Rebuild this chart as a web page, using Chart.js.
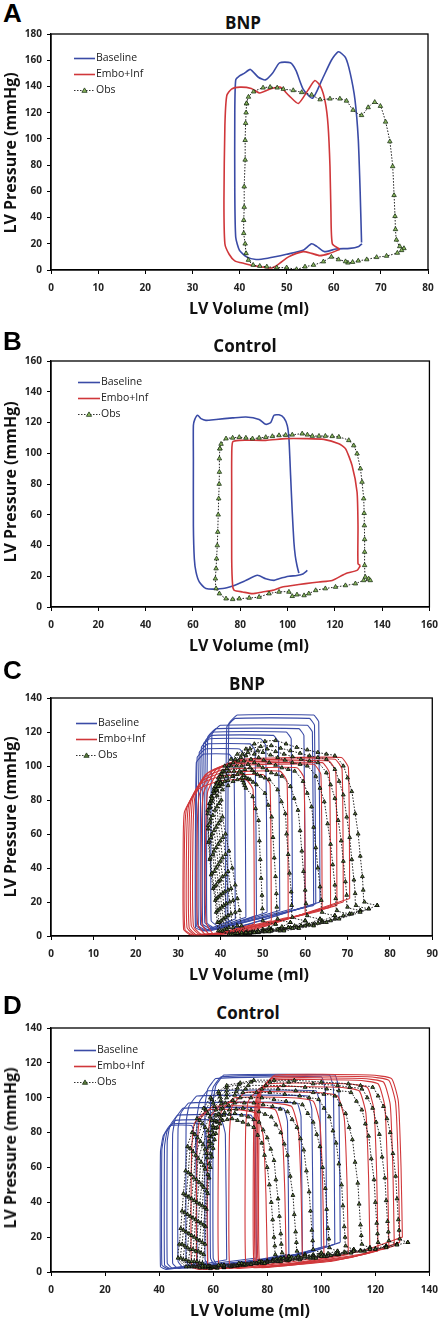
<!DOCTYPE html>
<html lang="en">
<head>
  <meta charset="UTF-8" />
  <title>LV pressure-volume loops</title>
  <script src="https://cdn.jsdelivr.net/npm/chart.js@4"></script>
  <style>
    body { margin: 0; background: #fff; font-family: 'Open Sans', sans-serif; }
    .fig { position: relative; width: 446px; height: 1320px; overflow: hidden; }
    .fig canvas { position: absolute; left: 0; }
    .lbl { position: absolute; color: #111; font-weight: bold; white-space: nowrap; transform: translate(-50%, -50%); line-height: 1; }
    .ttl { font-size: 17px; }
    .axt { font-size: 16px; }
    .yt { transform: translate(-50%, -50%) rotate(-90deg); font-size: 16px; }
    .letter { position: absolute; left: 3px; font-family: 'Liberation Sans', Arial, sans-serif; font-weight: bold; font-size: 26px; line-height: 1; color: #000; }
  </style>
</head>
<body>
<div class="fig">
  <div class="letter" style="top:0px">A</div>
  <div class="lbl ttl" style="left:243px; top:22px">BNP</div>
  <canvas id="chartA" width="446" height="300" style="top:0px"></canvas>
  <div class="lbl axt" style="left:249px; top:308px">LV Volume (ml)</div>
  <div class="lbl yt" style="left:10px; top:153px">LV Pressure (mmHg)</div>

  <div class="letter" style="top:328px">B</div>
  <div class="lbl ttl" style="left:245px; top:345px">Control</div>
  <canvas id="chartB" width="446" height="310" style="top:325px"></canvas>
  <div class="lbl axt" style="left:249px; top:645px">LV Volume (ml)</div>
  <div class="lbl yt" style="left:10px; top:482px">LV Pressure (mmHg)</div>

  <div class="letter" style="top:657px">C</div>
  <div class="lbl ttl" style="left:247px; top:683px">BNP</div>
  <canvas id="chartC" width="446" height="310" style="top:650px"></canvas>
  <div class="lbl axt" style="left:249px; top:974px">LV Volume (ml)</div>
  <div class="lbl yt" style="left:10px; top:817px">LV Pressure (mmHg)</div>

  <div class="letter" style="top:992px">D</div>
  <div class="lbl ttl" style="left:248px; top:1012px">Control</div>
  <canvas id="chartD" width="446" height="318" style="top:980px"></canvas>
  <div class="lbl axt" style="left:250px; top:1310px">LV Volume (ml)</div>
  <div class="lbl yt" style="left:10px; top:1148px">LV Pressure (mmHg)</div>
</div>
<script>
  // series names (legend)
  const seriesNames = ["Baseline", "Embo+Inf", "Obs"];

  // tick labels
  const aXTicks = [0, 10, 20, 30, 40, 50, 60, 70, 80];
  const aYTicks = [0, 20, 40, 60, 80, 100, 120, 140, 160, 180];
  const bXTicks = [0, 20, 40, 60, 80, 100, 120, 140, 160];
  const bYTicks = [0, 20, 40, 60, 80, 100, 120, 140, 160];
  const cXTicks = [0, 10, 20, 30, 40, 50, 60, 70, 80, 90];
  const cYTicks = [0, 20, 40, 60, 80, 100, 120, 140];
  const dXTicks = [0, 20, 40, 60, 80, 100, 120, 140];
  const dYTicks = [0, 20, 40, 60, 80, 100, 120, 140];

  // [volume ml, pressure mmHg]

  // A - BNP, single loop
  const aBaseline = [[65.9,21],[65.6,60],[65.2,100],[64.5,130],[63.5,150],[62.5,162],[61,166.5],[59.5,160],[57.5,145],[55.5,131],[53.5,138],[52,152],[50.8,158],[48.5,158],[47,150],[45.5,145],[44,147],[42.3,153],[41,150],[40,148],[39.2,145],[39,120],[39,60],[39.2,25],[40,15],[41.5,10],[43.5,8],[46,9],[50,12],[53.5,15],[55.3,20],[56.4,18],[58,14],[60.5,16],[63.4,16.5],[65.3,18],[66,20]];
  const aEmbo = [[61.3,15.8],[59.7,20],[59.4,45],[59.2,79],[58.8,110],[58.2,128],[57.2,140],[56,144.5],[54.5,137],[52.5,127],[50.5,133],[48.6,139.5],[46.5,138],[44.3,135],[42.5,138.5],[40.1,139.5],[38.3,138],[37.3,133],[36.9,110],[36.7,53],[36.9,20],[37.8,12],[39,7],[41,5],[43.5,3],[46.8,1.5],[48.5,5],[50.4,10],[53.5,14],[55.3,12.7],[57,11],[59,12.5],[61.3,15.8]];
  const aObs = [[41.5,127],[41.9,132],[43,136],[45,139],[46.5,139.5],[48,139],[49.3,138],[51.4,137],[53.2,135.5],[55.3,133.6],[57.1,130],[59.2,130.6],[61.3,130.6],[62.7,129],[64.1,122],[65.9,118],[67.3,124],[68.7,128],[69.9,125],[71,113],[71.9,98],[72.5,79],[72.8,57],[73,41],[73.1,31],[73.3,23],[74,18],[74.9,16.5],[74.4,15],[73.5,13],[71.2,10.7],[69.1,9.7],[67,8],[65.2,7],[64,6],[63,5.5],[62.5,6.5],[61,8],[59.5,10],[57.8,6.4],[55.7,3.8],[53.9,2.5],[52.1,0.5],[50,1.8],[47.9,1.8],[45.8,2.5],[44.3,3],[42.9,3.8],[41.9,7.6],[41.4,12.7],[41.2,20],[40.9,28],[40.9,38],[41,48],[41,63.6],[41.2,84],[41.2,99],[41.3,112],[41.4,120],[41.5,127]];

  // B - Control, single loop
  const bBaseline = [[104.8,22],[104,27],[103.3,33],[102.7,42.3],[102,61.8],[101.3,85.6],[100.6,109.5],[99.9,118],[98.5,123],[96.4,125],[94.3,124.7],[92.9,120],[90.8,118.8],[88,122],[82.4,123.6],[76.8,123],[69.8,122],[65.5,121.4],[63.4,122.5],[62,124.7],[60.8,122],[60.2,118],[60.2,96.5],[60.2,53],[60.6,31.4],[61.3,22.8],[62.7,16.3],[65.5,12],[72.6,12],[76.8,13.7],[82,17],[87.3,20.6],[90.8,18.4],[94.3,17.3],[96.4,18.4],[100.6,20],[104,20.5],[106.5,21.5],[108.4,23.8]];
  const bEmbo = [[130.8,27],[129.8,28.2],[129.8,53],[129.4,74.8],[127.3,92],[124.5,103],[121.7,106.2],[115.4,109],[107.6,109.5],[99.2,109.5],[90.8,108.4],[79.6,108.4],[76.8,107.3],[76.4,96.5],[76.4,74.8],[76.4,31.4],[76.8,14],[77.5,10.8],[81,9.8],[85.2,8.7],[89.4,9.8],[93.6,10.8],[97.8,13],[102,14],[107.6,15.2],[113.3,16.3],[118.9,17.3],[124.5,21.7],[129.4,23.8],[130.8,27]];
  const bObs = [[71.4,103],[71.9,106],[74,109.5],[76.8,110],[79.6,110.4],[82.4,110],[85.2,109.5],[88,110],[90.8,110.4],[93.6,111],[96.4,111.6],[99.2,111.8],[102,112],[106.2,112.7],[108.4,112],[110.5,111.2],[113.3,111.2],[116,111.2],[118.9,111],[121.7,110.6],[125.9,108.4],[128,105],[129.4,99.7],[130.8,90],[131.5,81.3],[132.2,70.5],[132.4,61],[132.5,53],[132.6,44],[132.6,35.8],[132.6,27.1],[132.9,19.5],[134.3,18.4],[135,17.3],[132.2,17.3],[128.7,15.2],[124.5,14],[120.3,13],[116,12],[111.9,10.8],[109,8.7],[107,7.5],[104,8],[102,7],[100.6,9.8],[96.4,9.8],[92.2,8.7],[88,6.5],[83.8,5.9],[79.6,5.4],[76.8,5],[74,5.4],[71.2,8.7],[69.8,12],[69.5,18.4],[69.8,25],[70,31.4],[70.3,40],[70.5,48.8],[70.7,60],[70.9,70.5],[71.1,80],[71.2,87.8],[71.2,96.5],[71.4,103]];

  // C - BNP, caval occlusion (one array per loop)
  const cBaseline = [
    [[63.5,20],[63.2,126],[62,130],[44,130],[42,125],[41.8,10],[44,5],[63.5,20]],
    [[62.5,19],[62.2,124],[61,128],[43.5,128],[41.5,123],[41.3,9],[43.5,5],[62.5,19]],
    [[62,18],[61.7,120],[60.5,124],[40,124],[38,119],[37.8,9],[40,5],[62,18]],
    [[60,17],[59.7,118],[58.5,122],[39,122],[37,117],[36.8,8],[39,4],[60,17]],
    [[57,16],[56.7,116],[55.5,120],[38.5,120],[36.5,115],[36.3,8],[38.5,4],[57,16]],
    [[54,15],[53.7,114],[52.5,118],[38,118],[36,113],[35.8,7],[38,4],[54,15]],
    [[51,14],[50.7,112],[49.5,116],[37.5,116],[35.5,111],[35.3,7],[37.5,3],[51,14]],
    [[48.5,12],[48.2,109],[47,113],[37,113],[35,108],[34.8,6],[37,3],[48.5,12]],
    [[46,11],[45.7,106],[44.5,110],[36.5,110],[34.5,105],[34.3,6],[36.5,3],[46,11]],
    [[43.5,10],[43.2,103],[42,107],[36,107],[34.3,102],[34.1,5],[36,3],[43.5,10]]
  ];
  const cEmbo = [
    [[70.5,22],[70.2,99],[68.5,105],[45,104],[40,99],[37,85],[36.5,60],[36.6,8],[38.5,1],[47,3],[70.5,22]],
    [[69,20],[68.7,98],[67,104],[44,103],[39,98],[36,84],[35.5,59],[35.6,7],[37.5,1],[46,3],[69,20]],
    [[67.5,18],[67.2,97],[65.5,103],[43,102],[38,97],[35,83],[34.5,58],[34.6,7],[36.5,1],[45,3],[67.5,18]],
    [[66,17],[65.7,96],[64,102],[42,101],[37,96],[34,82],[33.5,57],[33.6,6],[35.5,1],[44,3],[66,17]],
    [[64,15],[63.7,95],[62,101],[41.5,100],[36.5,95],[33.5,81],[33,56],[33.1,6],[35,1],[43,3],[64,15]],
    [[60,13],[59.7,93],[58,99],[41,98],[36,93],[33,79],[32.5,55],[32.6,5],[34.5,0.5],[42,2],[60,13]],
    [[56,11],[55.7,91],[54,97],[40.5,96],[35.5,91],[32.5,77],[32,54],[32.1,5],[34,0.5],[41,2],[56,11]],
    [[52,9],[51.7,89],[50,95],[40,94],[35,89],[32,75],[31.5,53],[31.6,4],[33.5,0.5],[40,2],[52,9]],
    [[48,7],[47.7,86],[46,92],[39.5,91],[34.5,86],[31.5,73],[31.2,52],[31.3,4],[33,0.5],[39,1.5],[48,7]]
  ];
  const cObs = [
    [[77,18],[74,20],[73.7,27],[73.5,35],[73,47],[72.5,60],[71.8,72],[71,85],[70,93],[69,100],[67,106],[65,107],[63,108],[60.5,109.5],[58,111],[55.5,113],[53,115],[50.5,114.5],[48,113],[46,110],[44,107],[42.5,104],[41,100],[40.3,95],[40,90],[40.2,80],[40.5,70],[41.2,60],[42,50],[42.8,40],[43.5,30],[44,22],[44.5,15],[45,6],[48,2],[51.5,2.5],[55,3],[58.5,4.5],[62,6],[65,8],[68,10],[73,14],[77,18]],
    [[75,16],[72,18],[71.8,25],[71.5,33],[71,45],[70.5,58],[69.8,70],[69,83],[68,91],[67,98],[65,104],[63,105],[61,106],[58.8,107.5],[56.5,109],[54.2,110.5],[52,112],[49.5,111.5],[47,110],[45.2,107],[43.5,104],[42,100.5],[40.5,97],[39.8,92],[39.5,88],[39.7,78],[40,68],[40.6,58],[41.2,48],[41.8,38],[42.5,28],[43,21],[43.5,14],[44,6],[47,2],[50.5,2.5],[54,3],[57,4.5],[60,6],[63,7.5],[66,9],[71,13],[75,16]],
    [[73,15],[70,17],[69.8,24],[69.5,32],[69,44],[68.5,56],[67.8,68],[67,81],[66,89],[65,96],[63,102],[61,103],[59,104],[57,105.5],[55,107],[53,108.5],[51,110],[48.8,109],[46.5,108],[44.8,105],[43,102],[41.5,98.5],[40,95],[39.3,90],[39,86],[39.2,76],[39.5,66],[40,56],[40.5,46],[41.2,36],[41.8,27],[42.2,20],[42.5,13],[43,5],[46,2],[49,2.5],[52,3],[55,4],[58,5],[61,6.5],[64,8],[69,12],[73,15]],
    [[70.5,13],[67.5,15],[67.2,22],[67,30],[66.5,42],[66,54],[65.3,66],[64.5,79],[63.5,87],[62.5,94],[60.5,100],[58.8,101],[57,102],[55.2,103.5],[53.5,105],[51.8,106.5],[50,108],[48,107],[46,106],[44.2,103],[42.5,100],[41,96.5],[39.5,93],[38.8,88],[38.5,84],[38.7,74],[39,64],[39.5,54],[40,44],[40.5,35],[41,26],[41.4,19],[41.8,12],[42,5],[45,2],[48,2.5],[51,3],[53.5,4],[56,5],[59,6],[62,7],[67,10],[70.5,13]],
    [[67,12],[64,14],[63.8,21],[63.5,29],[63,40],[62.5,52],[62,64],[61.5,76],[60.5,84],[59.5,91],[57.5,97],[56,98],[54.5,99],[53,100.5],[51.5,102],[50.2,103.5],[49,105],[47.2,104],[45.5,103],[43.8,100],[42,97],[40.5,93.5],[39,90],[38.3,85],[38,81],[38.2,71],[38.5,62],[39,52],[39.5,42],[40,33],[40.5,25],[40.8,18],[41.2,11],[41.5,4],[44,1.5],[46.5,1.8],[49,2],[51.5,3],[54,4],[56.5,5],[59,6],[64,9],[67,12]],
    [[63.5,10],[60.5,12],[60.2,19],[60,27],[59.6,38],[59.2,50],[58.8,62],[58.3,74],[57.4,81],[56.5,88],[54.5,94],[53.2,95],[52,96],[51,97.5],[50,99],[49,100.5],[48,102],[46.5,101],[45,100],[43.2,97],[41.5,94],[40,90.5],[38.5,87],[37.8,82],[37.5,78],[37.7,69],[38,60],[38.5,50],[39,40],[39.5,32],[40,24],[40.3,17],[40.7,10],[41,4],[43.5,1.5],[45.8,1.7],[48,2],[50,2.5],[52,3],[54,4],[56,5],[60.5,7],[63.5,10]],
    [[60,9],[57,11],[56.8,18],[56.7,26],[56.3,37],[56,48],[55.6,60],[55.3,72],[54.4,79],[53.5,86],[51.5,92],[50.5,93],[49.5,94],[48.7,95],[48,96],[47.5,97.5],[47,99],[45.8,98],[44.5,97],[42.8,94],[41,91],[39.8,88],[38.5,85],[37.8,80],[37.5,76],[37.6,67],[37.8,58],[38.2,48],[38.6,38],[39,30],[39.5,23],[39.8,16],[40.2,9],[40.5,3],[43,1],[45,1.2],[47,1.5],[48.5,2.2],[50,3],[52,3.5],[54,4],[57.5,6],[60,9]],
    [[56.5,8],[53.5,10],[53.3,17],[53.2,25],[53,35],[52.7,46],[52.4,58],[52.1,70],[51.3,77],[50.5,84],[48.5,89],[47.7,90.5],[47,92],[46.5,92.5],[46,93],[45.5,94.5],[45,96],[44,95],[43,94],[41.8,91.5],[40.5,89],[39.2,85.5],[38,82],[37.4,78],[37,74],[37.1,65],[37.3,56],[37.6,46],[38,37],[38.5,29],[39,22],[39.3,15],[39.7,8],[40,3],[42.5,1],[44.2,1.2],[46,1.5],[47.5,2],[49,2.5],[50.5,3.2],[52,4],[54.5,5.5],[56.5,8]],
    [[53,7],[50,9],[49.9,16],[49.8,24],[49.6,34],[49.4,45],[49.2,56],[49,68],[48.3,75],[47.6,82],[46,87],[45.7,88.5],[45.5,90],[45.2,91.5],[45,93],[44,92],[43,91],[41.8,88.5],[40.5,86],[39.2,82.5],[38,79],[37.5,75.5],[37,72],[37.1,63],[37.2,55],[37.5,45],[37.8,36],[38.3,28],[38.8,21],[39,14],[39.3,8],[39.5,3],[42,1],[43.5,1.2],[45,1.5],[46.2,2],[47.5,2.5],[48.8,3.2],[50,4],[51.5,5],[53,7]]
  ];

  // D - Control, caval occlusion (one array per loop)
  const dBaseline = [
    [[107,17],[106.5,105],[105,113],[64,113],[61,107],[60,98],[60,8],[62,3],[95,11],[107,17]],
    [[105,16],[104.5,105],[103,113],[63,112],[60,106],[59,97],[59,8],[61,3],[93,10],[105,16]],
    [[102,15],[101.5,104],[100,112],[61,111],[58,105],[57,96],[57,7],[59,3],[90,10],[102,15]],
    [[100,14],[99.5,96],[98,104],[58,104],[55,98],[54,89],[54,7],[56,3],[88,9],[100,14]],
    [[97,12],[96.5,93],[95,101],[54,101],[51,95],[50,86],[50,6],[52,2.5],[85,8],[97,12]],
    [[93,11],[92.5,89],[91,97],[51,97],[48,91],[47,82],[47,6],[49,2.5],[81,7],[93,11]],
    [[88,10],[87.5,86],[86,94],[49,94],[46,88],[45,79],[45,5],[47,2],[76,7],[88,10]],
    [[76,8],[75.5,82],[74,90],[47,90],[44,84],[43,75],[43,5],[45,2],[66,6],[76,8]],
    [[65,7],[64.5,79],[63,87],[46,87],[43,81],[42,72],[42,4],[44,2],[58,5],[65,7]],
    [[58,6],[57.5,77],[56,85],[45,85],[42,79],[41,70],[41,4],[43,2],[52,4],[58,6]],
    [[54,5],[53.5,76],[52,84],[44,84],[41.5,78],[40.5,69],[40.5,3],[42.5,1.5],[49,3],[54,5]]
  ];
  const dEmbo = [
    [[130,20],[129.5,60],[128.5,98],[126,111],[118,113],[83,113],[78,105],[77,88],[77,8],[80,3],[115,12],[130,20]],
    [[129,17],[128.5,60],[127.5,97],[125,110],[117,112],[82.5,112],[77.5,104],[76.5,87],[76.5,8],[79.5,3],[114,10],[129,17]],
    [[127,15],[126.5,58],[125.5,96],[123,109],[115,111],[82,111],[77,103],[76,86],[76,7],[79,3],[112,9],[127,15]],
    [[125,14],[124.5,57],[123.5,95],[121,108],[113,110],[81.5,110],[76.5,102],[75.5,85],[75.5,7],[78.5,3],[110,8],[125,14]],
    [[121,12],[120.5,55],[119.5,93],[117,106],[109,108],[81,108],[76,100],[75,83],[75,6],[78,2.5],[106,7],[121,12]],
    [[118,11],[117.5,54],[116.5,91],[114,104],[106,106],[78,106],[73,98],[72,81],[72,6],[75,2.5],[103,6],[118,11]],
    [[110,10],[109.5,52],[108.5,88],[106,101],[98,103],[72,103],[67,95],[66,78],[66,5],[69,2],[95,6],[110,10]],
    [[101,9],[100.5,50],[99.5,85],[97,98],[89,100],[68,100],[63,92],[62,75],[62,5],[65,2],[86,5],[101,9]],
    [[93,8],[92.5,48],[91.5,82],[89,95],[82,97],[64,97],[59,89],[58,72],[58,4],[61,2],[79,4],[93,8]],
    [[87,7],[86.5,46],[85.5,80],[83,93],[76,95],[60,95],[55,87],[54,70],[54,4],[57,1.5],[74,4],[87,7]],
    [[80,6],[79.5,45],[78.5,78],[76,91],[70,93],[58,93],[53,85],[52,68],[52,3],[55,1.5],[68,3],[80,6]]
  ];
  const dObs = [
    [[132,17],[129,19],[128.8,24],[128.5,30],[128,42],[127.5,55],[126.5,68],[125.5,80],[124.3,88],[123,95],[121,101],[119,106],[114.5,107],[110,108],[100,109],[90,110],[82.5,110],[75,110],[70,108.5],[65,107],[62,103.5],[59,100],[56.5,94],[54,88],[52.2,80],[50.5,72],[49.8,58],[49,45],[48.5,35],[48,25],[47.5,16],[47,8],[50,3],[56,3.5],[62,4],[69.5,5],[77,6],[88.5,7.5],[100,9],[106,10.5],[112,12],[118,13],[124,14],[128,15.5],[132,17]],
    [[128,16],[125,18],[124.8,23],[124.5,29],[124,41],[123.5,54],[122.5,66],[121.5,79],[120.3,86],[119,94],[117,100],[115,105],[110.5,106],[106,107],[97,108],[88,109],[81,109],[74,109],[69.5,107.5],[65,106],[62.2,102.5],[59.5,99],[57.2,93],[55,87],[53.2,79],[51.5,71],[50.8,57],[50,44],[49.5,34],[49,24],[48.5,16],[48,8],[51,3],[57,3.5],[63,4],[70.5,5],[78,6],[88,7],[98,8],[103.5,9.5],[109,11],[114.5,12],[120,13],[124,14.5],[128,16]],
    [[124,15],[121,17],[120.8,22],[120.5,28],[120,40],[119.5,53],[118.5,65],[117.5,78],[116.3,85],[115,93],[113,98],[111,103],[106.5,104],[102,105],[94,106],[86,107],[79.5,107],[73,107],[69,105.5],[65,104],[62.5,100.5],[60,97],[58,91],[56,85],[54.2,77],[52.5,69],[51.8,56],[51,43],[50.5,33],[50,23],[49.5,15],[49,7],[52,3],[58,3.5],[64,4],[71.5,4.5],[79,5],[87.5,6.5],[96,8],[101,9],[106,10],[111,11],[116,12],[120,13.5],[124,15]],
    [[118,14],[115,16],[114.8,21],[114.5,27],[114,39],[113.5,51],[112.5,63],[111.5,76],[110.3,83],[109,91],[107,96],[105,101],[101,102],[97,103],[90.5,104],[84,105],[78,105],[72,105],[68.5,103.5],[65,102],[62.8,98.5],[60.5,95],[58.8,89],[57,83],[55.2,75],[53.5,67],[52.8,54],[52,42],[51.5,32],[51,22],[50.5,14],[50,7],[53,3],[58.5,3.5],[64,4],[71,4.5],[78,5],[85,6],[92,7],[97,8],[102,9],[106.5,10],[111,11],[114.5,12.5],[118,14]],
    [[112,13],[109,15],[108.8,20],[108.5,26],[108,38],[107.5,50],[106.5,62],[105.5,74],[104.3,81],[103,89],[101,94],[99,99],[95.5,100],[92,101],[86.5,102],[81,103],[76,103],[71,103],[68,101.5],[65,100],[63,96.5],[61,93],[59.5,87],[58,81],[56.2,73],[54.5,65],[53.8,53],[53,41],[52.5,31],[52,21],[51.5,13],[51,6],[54,3],[59,3.2],[64,3.5],[70,4.2],[76,5],[82,6],[88,7],[92.5,8],[97,9],[101,9.5],[105,10],[108.5,11.5],[112,13]],
    [[106,12],[103,14],[102.8,19],[102.5,25],[102,36],[101.5,48],[100.5,60],[99.5,72],[98.3,79],[97,86],[95,91],[93,96],[90,97],[87,98],[82.5,99],[78,100],[74,100],[70,100],[67.2,98.5],[64.5,97],[62.8,93.5],[61,90],[59.8,84],[58.5,78],[57,70.5],[55.5,63],[54.8,51.5],[54,40],[53.5,30],[53,20],[52.5,13],[52,6],[55,2.5],[59.5,2.8],[64,3],[69,3.8],[74,4.5],[79,5.2],[84,6],[88,7],[92,8],[95.5,8.8],[99,9.5],[102.5,10.7],[106,12]],
    [[100,11],[97,13],[96.8,18],[96.5,24],[96,35],[95.5,46],[94.5,58],[93.5,70],[92.3,76.5],[91,83],[89.2,87.5],[87.5,92],[84.8,93.5],[82,95],[78.5,96],[75,97],[71.5,97],[68,97],[65.8,95.5],[63.5,94],[62,90.5],[60.5,87],[59.5,81],[58.5,75],[57.5,68],[56.5,61],[55.8,50],[55,39],[54.5,29],[54,19],[53.5,12],[53,6],[56,2.5],[60,2.8],[64,3],[68,3.5],[72,4],[76,4.8],[80,5.5],[83.5,6.2],[87,7],[90.5,8],[94,9],[97,10],[100,11]],
    [[94,10],[91,12],[90.8,17],[90.5,23],[90,33],[89.5,44],[88.5,55],[87.5,67],[86.3,73.5],[85,80],[83.2,84.5],[81.5,89],[79.2,90.5],[77,92],[74,93],[71,94],[68.5,93.5],[66,93],[64.2,91.5],[62.5,90],[61.2,86.5],[60,83],[59.2,77.5],[58.5,72],[57.8,65.5],[57,59],[56.5,48.5],[56,38],[55.5,28],[55,18],[54.5,12],[54,6],[57,2.5],[60.5,2.8],[64,3],[67.5,3.5],[71,4],[74,4.8],[77,5.5],[80,6.2],[83,7],[86,7.8],[89,8.5],[91.5,9.2],[94,10]],
    [[88,9],[85.5,11],[85.2,16],[85,22],[84.5,32],[84,42],[83.2,53],[82.5,64],[81.3,70.5],[80,77],[78.5,81.5],[77,86],[75,87.5],[73,89],[70.5,90],[68,91],[66,90.5],[64,90],[62.8,88],[61.5,86],[60.8,82.5],[60,79],[59.5,73.5],[59,68],[58.5,62],[58,56],[57.5,46.5],[57,37],[56.5,27],[56,17],[55.5,11],[55,5],[58,2.5],[61,2.8],[64,3],[67,3.5],[70,4],[72.5,4.5],[75,5],[77.5,5.8],[80,6.5],[82.2,7],[84.5,7.5],[86.2,8.2],[88,9]],
    [[85,8],[83,10],[82.8,15],[82.5,20],[82,30],[81.5,40],[80.8,50],[80,60],[79,67],[78,74],[76.5,78.5],[75,83],[73,84.5],[71,86],[69,87],[67,88],[65.2,87.5],[63.5,87],[62.5,85],[61.5,83],[61,79.5],[60.5,76],[60,71],[59.5,66],[59,60],[58.5,54],[58,45],[57.5,36],[57.2,26],[57,16],[56.5,10],[56,5],[59,2],[61.5,2.2],[64,2.5],[66.5,3],[69,3.5],[71.5,4],[74,4.5],[76,5],[78,5.5],[80,6.2],[82,7],[83.5,7.5],[85,8]]
  ];

  const BLUE = "#3a4ba6";
  const RED = "#d0373a";
  const tickFont = { family: "'Open Sans', sans-serif", size: 10, weight: "bold" };

  const frame = {
    id: "frame",
    afterDatasetsDraw(chart) {
      const { ctx, chartArea: a } = chart;
      ctx.save();
      ctx.strokeStyle = "#000";
      ctx.lineWidth = 1.3;
      ctx.strokeRect(a.left, a.top, a.right - a.left, a.bottom - a.top);
      ctx.restore();
    }
  };

  const pvLegend = {
    id: "pvLegend",
    afterDraw(chart, args, opts) {
      const { ctx, chartArea: a } = chart;
      const x0 = a.left + opts.dx, y0 = a.top + opts.dy, len = opts.len;
      ctx.save();
      ctx.font = "10.5px 'Open Sans', sans-serif";
      ctx.textBaseline = "middle";
      seriesNames.forEach((name, i) => {
        const y = Math.round(y0 + i * 16) + 0.5;
        ctx.beginPath();
        if (i < 2) {
          ctx.strokeStyle = i === 0 ? BLUE : RED;
          ctx.lineWidth = 1.6;
          ctx.setLineDash([]);
        } else {
          ctx.strokeStyle = "#333";
          ctx.lineWidth = 1;
          ctx.setLineDash([1.5, 1.5]);
        }
        ctx.moveTo(x0, y);
        ctx.lineTo(x0 + len, y);
        ctx.stroke();
        if (i === 2) {
          const cx = x0 + len / 2, r = 2.6;
          ctx.setLineDash([]);
          ctx.beginPath();
          ctx.moveTo(cx, y - r);
          ctx.lineTo(cx + r, y + r * 0.7);
          ctx.lineTo(cx - r, y + r * 0.7);
          ctx.closePath();
          ctx.fillStyle = opts.tri;
          ctx.fill();
          ctx.strokeStyle = "#1d3318";
          ctx.lineWidth = 0.8;
          ctx.stroke();
        }
        ctx.fillStyle = "#222";
        ctx.fillText(name, x0 + len + 1, y);
      });
      ctx.restore();
    }
  };

  const toXY = loop => loop.map(p => ({ x: p[0], y: p[1] }));

  function lineSet(loop, color, width, tension) {
    return { data: toXY(loop), showLine: true, borderColor: color, borderWidth: width,
             pointRadius: 0, tension: tension, order: color === BLUE ? 2 : 1, fill: false };
  }
  function obsSet(loop, radius, fillColor, edge, tension) {
    return { data: toXY(loop), showLine: true, borderColor: "#222", borderWidth: 1,
             borderDash: [1.5, 1.5], pointStyle: "triangle", pointRadius: radius,
             pointBackgroundColor: fillColor, pointBorderColor: edge, pointBorderWidth: 0.8,
             tension: tension, order: 0, fill: false };
  }

  function axis(ticks, fitSize, isX) {
    return {
      type: "linear",
      min: ticks[0],
      max: ticks[ticks.length - 1],
      afterBuildTicks: s => { s.ticks = ticks.map(v => ({ value: v })); },
      afterFit: s => { if (isX) s.height = fitSize; else s.width = fitSize; },
      ticks: { font: tickFont, color: "#222", padding: isX ? 8 : 5, maxRotation: 0, autoSkip: false },
      grid: { display: true, drawOnChartArea: false, drawTicks: true, tickLength: 4, color: "#000" },
      border: { display: true, color: "#000", width: 1.3 }
    };
  }

  function makePanel(id, datasets, xTicks, yTicks, pad, xH, leg) {
    new Chart(document.getElementById(id), {
      type: "scatter",
      data: { datasets: datasets },
      options: {
        responsive: false,
        animation: false,
        devicePixelRatio: 1,
        layout: { padding: { top: pad.top, right: pad.right, left: 0, bottom: 0 } },
        scales: { x: axis(xTicks, xH, true), y: axis(yTicks, 51, false) },
        plugins: { legend: { display: false }, tooltip: { enabled: false }, pvLegend: leg }
      },
      plugins: [frame, pvLegend]
    });
  }

  makePanel("chartA",
    [obsSet(aObs, 2.6, "#8dbb5e", "#1d3318", 0.2), lineSet(aEmbo, RED, 1.6, 0.2), lineSet(aBaseline, BLUE, 1.6, 0.2)],
    aXTicks, aYTicks, { top: 34, right: 18 }, 30, { dx: 23, dy: 24, len: 21, tri: "#8dbb5e" });

  makePanel("chartB",
    [obsSet(bObs, 2.6, "#8dbb5e", "#1d3318", 0.2), lineSet(bEmbo, RED, 1.6, 0.2), lineSet(bBaseline, BLUE, 1.6, 0.2)],
    bXTicks, bYTicks, { top: 36, right: 15 }, 28, { dx: 27, dy: 21, len: 22, tri: "#8dbb5e" });

  makePanel("chartC",
    cObs.map(l => obsSet(l, 2.2, "#5d7d3c", "#000", 0.2))
      .concat(cEmbo.map(l => lineSet(l, RED, 1.1, 0.15)))
      .concat(cBaseline.map(l => lineSet(l, BLUE, 1.1, 0.1))),
    cXTicks, cYTicks, { top: 48, right: 9 }, 24, { dx: 25, dy: 25, len: 21, tri: "#5d7d3c" });

  makePanel("chartD",
    dObs.map(l => obsSet(l, 2.2, "#5d7d3c", "#000", 0.2))
      .concat(dEmbo.map(l => lineSet(l, RED, 1.1, 0.15)))
      .concat(dBaseline.map(l => lineSet(l, BLUE, 1.1, 0.1))),
    dXTicks, dYTicks, { top: 48, right: 9 }, 26, { dx: 23, dy: 22, len: 22, tri: "#5d7d3c" });
</script>
</body>
</html>
